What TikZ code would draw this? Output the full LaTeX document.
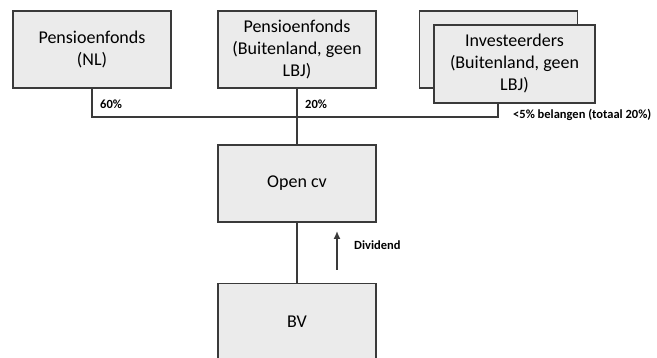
\documentclass[tikz,border=0pt]{standalone}
\usepackage{fontspec}
\setmainfont{Carlito}
\usepackage{tikz}
\usetikzlibrary{calc,arrows.meta}
\definecolor{boxfill}{HTML}{EBEBEB}
\definecolor{boxline}{HTML}{3A3A3A}
\tikzset{x=1pt, y=-1pt,
     fund box/.style={draw=boxline, fill=boxfill, line width=1.4pt,
           minimum width=158pt, minimum height=77pt, align=center,
           inner sep=0pt, font=\fontsize{18}{22}\selectfont},
     share label/.style={right, inner sep=0pt, font=\bfseries\fontsize{12.5}{14}\selectfont},
     link/.style={draw=boxline, line width=1.2pt}
     }

\begin{document}
\begin{tikzpicture}
\clip (0,0) rectangle (657,358);
\useasboundingbox (0,0) rectangle (657,358);
\node (nl) [fund box] at (92,49.5) {Pensioenfonds\\(NL)};
\node (pfb) [fund box] at (297,49.5) {Pensioenfonds\\(Buitenland, geen\\LBJ)};
\node (inv1) [fund box] at (498.5,49.5) {};
\node (inv2) [fund box, minimum width=161pt, minimum height=78pt] at (514.5,64) {Investeerders\\(Buitenland, geen\\LBJ)};
\node (ocv) [fund box] at (297,183.5) {Open cv};
\node (bv) [fund box] at (297,322) {BV};
%\node (bv) [fund box, minimum height=80pt] at (297,323) {BV};
\coordinate (bar-r) at (498,117);
\draw[link] (nl.south) |- (bar-r) -- (bar-r |- inv2.south);
\draw[link] (pfb.south) -- (ocv.north);
\draw[link] (ocv.south) -- (bv.north);
\node (p60) [share label] at (100,104) {60\%};
\node (p20) [share label] at (305,104) {20\%};
\node (p5) [share label] at (513,115) {<5\% belangen (totaal 20\%)};
\coordinate (div-from) at (337,270);
\coordinate (div-to) at (337,231);
\draw[link, line width=1.5pt, -{Latex[length=8pt,width=7pt]}] (div-from) -- (div-to);
\node (dividend) [share label] at (354,245) {Dividend};
\end{tikzpicture}
\end{document}
